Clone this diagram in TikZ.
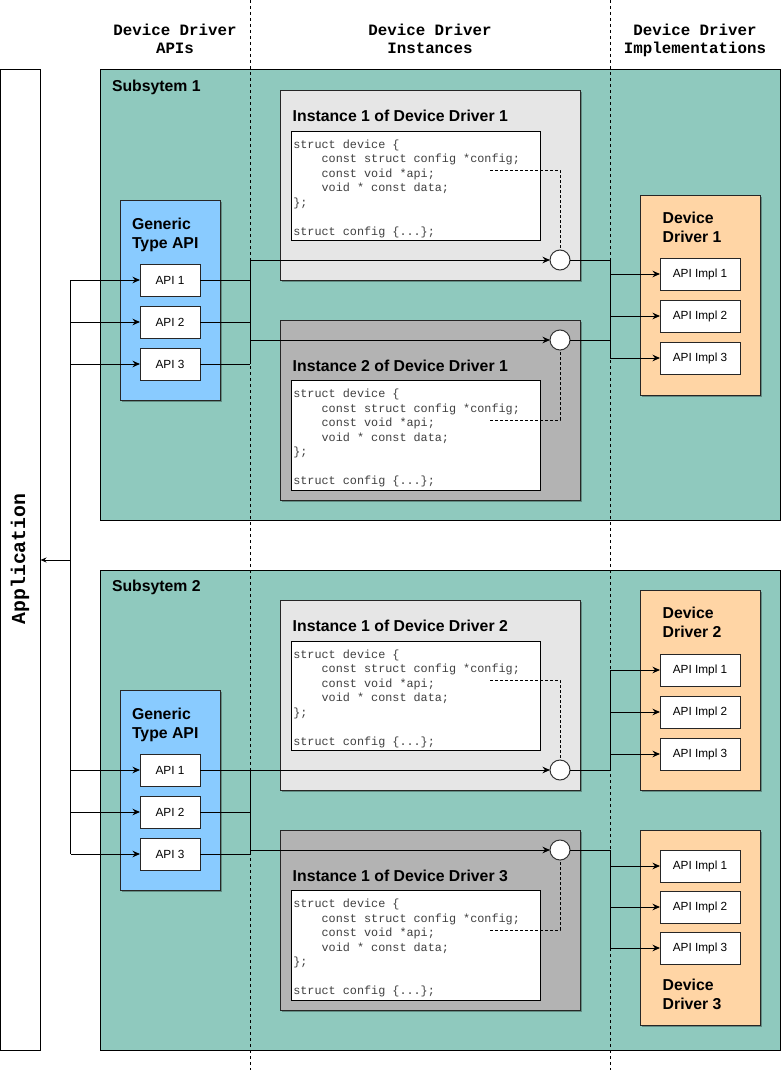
\documentclass[tikz,border=0pt]{standalone}
\usepackage{fontspec}
\setmainfont{Liberation Sans}
\newfontfamily\codefont{Liberation Mono}
\usetikzlibrary{arrows.meta,shadows}

\definecolor{subsys}{RGB}{143,201,190}
\definecolor{apiblue}{RGB}{137,203,255}
\definecolor{drvorange}{RGB}{255,213,165}
\definecolor{instlight}{RGB}{230,230,230}
\definecolor{instdark}{RGB}{179,179,179}

% the C declaration shown in every driver instance
\newcommand\devstruct{\vtop{\codefont\fontsize{11.8}{14.5}\selectfont
  \hbox{struct device \{}
  \hbox{\hphantom{xxxx}const struct config *config;}
  \hbox{\hphantom{xxxx}const void *api;}
  \hbox{\hphantom{xxxx}void * const data;}
  \hbox{\};}
  \hbox{}
  \hbox{struct config \{...\};}}}

\begin{document}
\begin{tikzpicture}[x=1pt, y=-1pt, line width=1pt,
  every node/.style={inner sep=0pt, outer sep=0pt},
  boxshadow/.style={drop shadow={shadow xshift=1.5pt, shadow yshift=-1.5pt, opacity=0.3, fill=black}},
  area/.style={draw, fill=subsys, anchor=north west, minimum width=680pt},
  group/.style={draw=black!85, anchor=north west, boxshadow},
  codebox/.style={draw, fill=white, anchor=north west, minimum width=249pt},
  codetext/.style={anchor=base west, text=black!75},
  apibox/.style={draw=black!85, fill=white, minimum width=60pt, minimum height=32pt,
                 font=\fontsize{11.8}{14}\selectfont},
  implbox/.style={apibox, minimum width=80pt},
  port/.style={circle, draw=black!80, fill=white, minimum size=20pt},
  title/.style={anchor=base west, font=\bfseries\fontsize{15.8}{19}\selectfont},
  header/.style={anchor=base, font=\codefont\bfseries\fontsize{15.8}{19}\selectfont},
  lane/.style={line width=0.8pt, dash pattern=on 3pt off 3pt},
  ptr/.style={line width=0.8pt, dash pattern=on 3pt off 2pt},
  link/.style={-{Stealth[length=7.5pt,width=6.5pt]}},
  back/.style={-{Stealth[length=6pt,width=5pt]}}]

\useasboundingbox (0,0) rectangle (781,1081);

% column headers
\node[header] (h1a) at (175,35.5) {Device Driver};
\node[header] (h1b) at (175,54) {APIs};
\node[header] (h2a) at (430,35.5) {Device Driver};
\node[header] (h2b) at (430,54) {Instances};
\node[header] (h3a) at (695,35.5) {Device Driver};
\node[header] (h3b) at (695,54) {Implementations};

% application column
\node[draw, fill=white, anchor=north west, minimum width=40pt, minimum height=980pt] (app) at (0.5,70) {};
\node[rotate=90, font=\codefont\bfseries\fontsize{19.8}{24}\selectfont] (apptext) at (20,559) {Application};

% subsystems
\node[area, minimum height=450pt] (sub1) at (100,70) {};
\node[title] (sub1t) at (112,91.7) {Subsytem 1};
\node[area, minimum height=480pt] (sub2) at (100,570) {};
\node[title] (sub2t) at (112,591.7) {Subsytem 2};

% column separators
\coordinate (laneA top) at (250,0);
\coordinate (laneA bot) at (250,1070);
\coordinate (laneB top) at (610,0);
\coordinate (laneB bot) at (610,1070);
\draw[lane] (laneA top) -- (laneA bot);
\draw[lane] (laneB top) -- (laneB bot);

% generic APIs
\node[group, fill=apiblue, minimum width=100pt, minimum height=200pt] (gen1) at (120,200) {};
\node[title] (gen1ta) at (132,229) {Generic};
\node[title] (gen1tb) at (132,248) {Type API};
\node[apibox] (a11) at (170,280) {API 1};
\node[apibox] (a12) at (170,322) {API 2};
\node[apibox] (a13) at (170,364) {API 3};

\node[group, fill=apiblue, minimum width=100pt, minimum height=200pt] (gen2) at (120,690) {};
\node[title] (gen2ta) at (132,719) {Generic};
\node[title] (gen2tb) at (132,738) {Type API};
\node[apibox] (a21) at (170,770) {API 1};
\node[apibox] (a22) at (170,812) {API 2};
\node[apibox] (a23) at (170,854) {API 3};

% driver instances
\node[group, fill=instlight, minimum width=300pt, minimum height=190pt] (i11) at (280,90) {};
\node[title] (i11t) at (292.7,121.3) {Instance 1 of Device Driver 1};
\node[codebox, minimum height=109pt] (c11) at (291,131) {};
\node[codetext] (s11) at (293.3,148) {\devstruct};
\node[port] (p11) at (560,260) {};

\node[group, fill=instdark, minimum width=300pt, minimum height=180pt] (i12) at (280,320) {};
\node[title] (i12t) at (292.7,371.7) {Instance 2 of Device Driver 1};
\node[codebox, minimum height=110pt] (c12) at (291,380) {};
\node[codetext] (s12) at (293.3,397.7) {\devstruct};
\node[port] (p12) at (560,340) {};

\node[group, fill=instlight, minimum width=300pt, minimum height=190pt] (i21) at (280,600) {};
\node[title] (i21t) at (292.7,631.3) {Instance 1 of Device Driver 2};
\node[codebox, minimum height=109pt] (c21) at (291,641) {};
\node[codetext] (s21) at (293.3,658) {\devstruct};
\node[port] (p21) at (560,770) {};

\node[group, fill=instdark, minimum width=300pt, minimum height=180pt] (i31) at (280,830) {};
\node[title] (i31t) at (292.7,881.7) {Instance 1 of Device Driver 3};
\node[codebox, minimum height=110pt] (c31) at (291,890) {};
\node[codetext] (s31) at (293.3,907.7) {\devstruct};
\node[port] (p31) at (560,850) {};

% api pointers of the instances
\coordinate (api11) at (490,170);
\coordinate (api12) at (490,420);
\coordinate (api21) at (490,680);
\coordinate (api31) at (490,930);
\draw[ptr] (api11) -| (p11.north);
\draw[ptr] (api12) -| (p12.south);
\draw[ptr] (api21) -| (p21.north);
\draw[ptr] (api31) -| (p31.south);

% driver implementations
\node[group, fill=drvorange, minimum width=120pt, minimum height=200pt] (d1) at (640,195) {};
\node[title] (d1ta) at (662.7,223.3) {Device};
\node[title] (d1tb) at (662.7,242.3) {Driver 1};
\node[implbox] (m11) at (700,274) {API Impl 1};
\node[implbox] (m12) at (700,316) {API Impl 2};
\node[implbox] (m13) at (700,358) {API Impl 3};

\node[group, fill=drvorange, minimum width=120pt, minimum height=200pt] (d2) at (640,590.7) {};
\node[title] (d2ta) at (662.7,618.3) {Device};
\node[title] (d2tb) at (662.7,637.3) {Driver 2};
\node[implbox] (m21) at (700,670) {API Impl 1};
\node[implbox] (m22) at (700,712) {API Impl 2};
\node[implbox] (m23) at (700,754) {API Impl 3};

\node[group, fill=drvorange, minimum width=120pt, minimum height=195pt] (d3) at (640,830) {};
\node[implbox] (m31) at (700,866) {API Impl 1};
\node[implbox] (m32) at (700,907) {API Impl 2};
\node[implbox] (m33) at (700,948) {API Impl 3};
\node[title] (d3ta) at (662.7,990.7) {Device};
\node[title] (d3tb) at (662.7,1009.7) {Driver 3};

% application to the generic APIs
\coordinate (bus) at (70.5,560);
\draw (a11.west -| bus) -- (a23.west -| bus);
\draw[back] (bus) -- (bus -| app.east);
\foreach \n in {a11,a12,a13,a21,a22,a23}
  \draw[link] (\n.west -| bus) -- (\n.west);

% generic APIs to the instances, subsystem 1
\coordinate (hub1) at (250,260);
\coordinate (hub1b) at (250,340);
\foreach \n in {a11,a12,a13}
  \draw (\n.east) -- (\n.east -| hub1);
\draw (hub1) -- (a13.east -| hub1);
\draw[link] (hub1) -- (p11.west);
\draw[link] (hub1b) -- (p12.west);

% generic APIs to the instances, subsystem 2
\coordinate (hub2) at (250,850);
\draw[link] (a21.east) -- (p21.west);
\foreach \n in {a22,a23}
  \draw (\n.east) -- (\n.east -| hub2);
\draw (a21.east -| hub2) -- (a23.east -| hub2);
\draw[link] (hub2) -- (p31.west);

% instances to the implementations
\coordinate (fan) at (610,260);
\draw (p11.east) -- (p11.east -| fan) -- (m13.west -| fan);
\draw (p12.east) -- (p12.east -| fan);
\foreach \n in {m11,m12,m13}
  \draw[link] (\n.west -| fan) -- (\n.west);

\draw (p21.east) -- (p21.east -| fan) -- (m21.west -| fan);
\foreach \n in {m21,m22,m23}
  \draw[link] (\n.west -| fan) -- (\n.west);

\draw (p31.east) -- (p31.east -| fan) -- (m33.west -| fan);
\foreach \n in {m31,m32,m33}
  \draw[link] (\n.west -| fan) -- (\n.west);

\end{tikzpicture}
\end{document}
